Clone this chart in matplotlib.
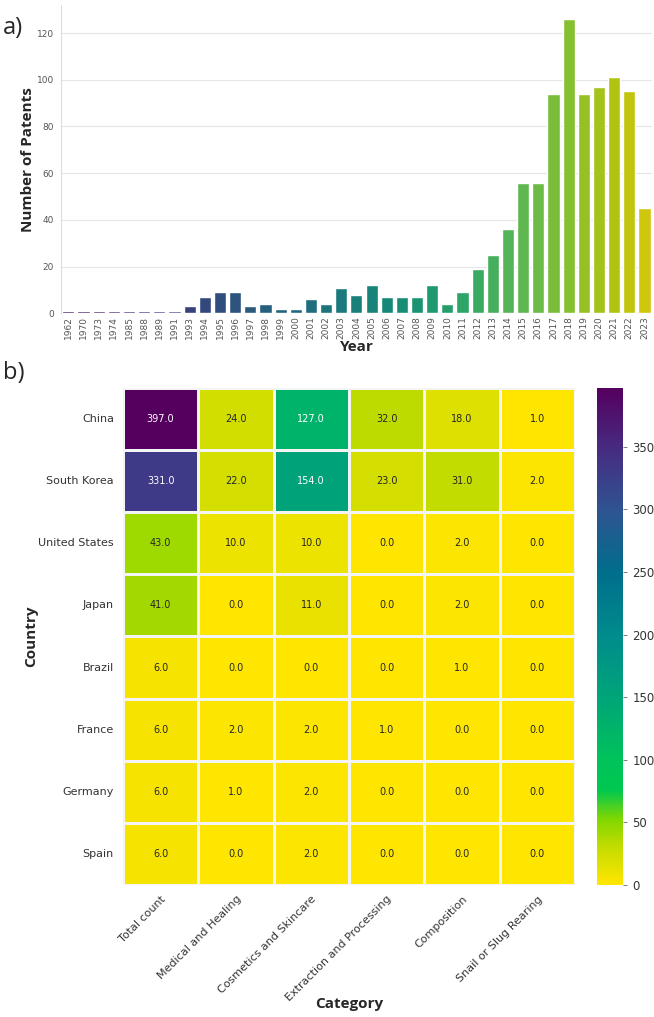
import colorsys

import matplotlib
matplotlib.use("Agg")
import matplotlib.pyplot as plt
from matplotlib.colors import LinearSegmentedColormap
import numpy as np
import pandas as pd
import seaborn as sns

# panel a) patents per year
years = ["1962", "1970", "1973", "1974", "1985", "1988", "1989", "1991", "1993",
         "1994", "1995", "1996", "1997", "1998", "1999", "2000", "2001", "2002",
         "2003", "2004", "2005", "2006", "2007", "2008", "2009", "2010", "2011",
         "2012", "2013", "2014", "2015", "2016", "2017", "2018", "2019", "2020",
         "2021", "2022", "2023"]
patents = [1, 1, 1, 1, 1, 1, 1, 1, 3,
           7, 9, 9, 3, 4, 2, 2, 6, 4,
           11, 8, 12, 7, 7, 7, 12, 4, 9,
           19, 25, 36, 56, 56, 94, 126, 94, 97,
           101, 95, 45]

# panel b) country x category
countries = ["China", "South Korea", "United States", "Japan",
             "Brazil", "France", "Germany", "Spain"]
categories = ["Total count", "Medical and Healing", "Cosmetics and Skincare",
              "Extraction and Processing", "Composition", "Snail or Slug Rearing"]
total_count = [397, 331, 43, 41, 6, 6, 6, 6]
medical = [24, 22, 10, 0, 0, 2, 1, 0]
cosmetics = [127, 154, 10, 11, 0, 2, 2, 2]
extraction = [32, 23, 0, 0, 0, 1, 0, 0]
composition = [18, 31, 2, 2, 1, 0, 0, 0]
rearing = [1, 2, 0, 0, 0, 0, 0, 0]

LABEL_FONT = "Open Sans"

# the reference is a punchier, more saturated viridis_r
heat_cmap = LinearSegmentedColormap.from_list("viridis_punchy", [
    (0.000, "#ffe600"),
    (0.070, "#c8dc00"),
    (0.130, "#82d700"),
    (0.190, "#00c850"),
    (0.250, "#00c35a"),
    (0.375, "#00a578"),
    (0.500, "#008c8c"),
    (0.630, "#006e8c"),
    (0.750, "#2d5591"),
    (0.875, "#462d82"),
    (1.000, "#55005f"),
])


def punch(colors, sat=1.2, val=0.95):
    out = []
    for c in colors:
        h, s, v = colorsys.rgb_to_hsv(*c)
        out.append(colorsys.hsv_to_rgb(h, min(1.0, s * sat), v * val))
    return out


fig = plt.figure(figsize=(6.54, 10.17), dpi=100)

# ---- a) bar chart
sns.set_style("whitegrid")
ax1 = fig.add_axes([0.093, 0.692, 0.904, 0.303])
df = pd.DataFrame({"Year": years, "Patents": patents})
bar_colors = punch(sns.color_palette("viridis", len(years), desat=0.8))
sns.barplot(data=df, x="Year", y="Patents", hue="Year", palette=bar_colors,
            saturation=1, legend=False, ax=ax1)
ax1.set_ylim(0, 132)
ax1.set_yticks([0, 20, 40, 60, 80, 100, 120])
ax1.tick_params(axis="x", labelrotation=90, labelsize=6.5, length=0, pad=2,
                labelcolor="#555555")
ax1.tick_params(axis="y", labelsize=6.5, length=0, pad=5, labelcolor="#555555")
ax1.grid(axis="y", color="#e6e6e6", linewidth=0.8)
ax1.grid(axis="x", visible=False)
for s in ["top", "right", "bottom"]:
    ax1.spines[s].set_visible(False)
ax1.spines["left"].set_color("#dddddd")
ax1.set_xlabel("Year", fontsize=11, fontweight="bold", family=LABEL_FONT, labelpad=1)
ax1.set_ylabel("Number of Patents", fontsize=11, fontweight="bold", family=LABEL_FONT,
               labelpad=1)

# ---- b) heatmap
sns.set_style("white")
heat = pd.DataFrame({
    "Total count": total_count,
    "Medical and Healing": medical,
    "Cosmetics and Skincare": cosmetics,
    "Extraction and Processing": extraction,
    "Composition": composition,
    "Snail or Slug Rearing": rearing,
}, index=countries)[categories]

ax2 = fig.add_axes([0.188, 0.1298, 0.691, 0.4887])
cax = fig.add_axes([0.913, 0.1298, 0.040, 0.4887])
sns.heatmap(heat.astype(float), annot=True, fmt=".1f", cmap=heat_cmap,
            vmin=0, vmax=397, linewidths=0.8, linecolor="#f4f4f4",
            ax=ax2, cbar_ax=cax, annot_kws={"fontsize": 7})
ax2.tick_params(axis="both", length=3, width=0.6, color="#666666")
ax2.tick_params(axis="y", labelsize=8, labelrotation=0, labelcolor="#333333")
ax2.tick_params(axis="x", labelsize=8, labelcolor="#333333")
plt.setp(ax2.get_xticklabels(), rotation=45, ha="right", rotation_mode="anchor")
ax2.set_xlabel("Category", fontsize=11, fontweight="bold", family=LABEL_FONT)
ax2.xaxis.set_label_coords(0.5, -0.225)
ax2.set_ylabel("Country", fontsize=11, fontweight="bold", family=LABEL_FONT, labelpad=0)
cax.tick_params(labelsize=8.5, length=3, width=0.6, labelcolor="#333333", color="#666666")

fig.text(0.005, 0.972, "a)", fontsize=17, family=LABEL_FONT, va="center")
fig.text(0.005, 0.633, "b)", fontsize=17, family=LABEL_FONT, va="center")

fig.savefig("out.png", dpi=100)
